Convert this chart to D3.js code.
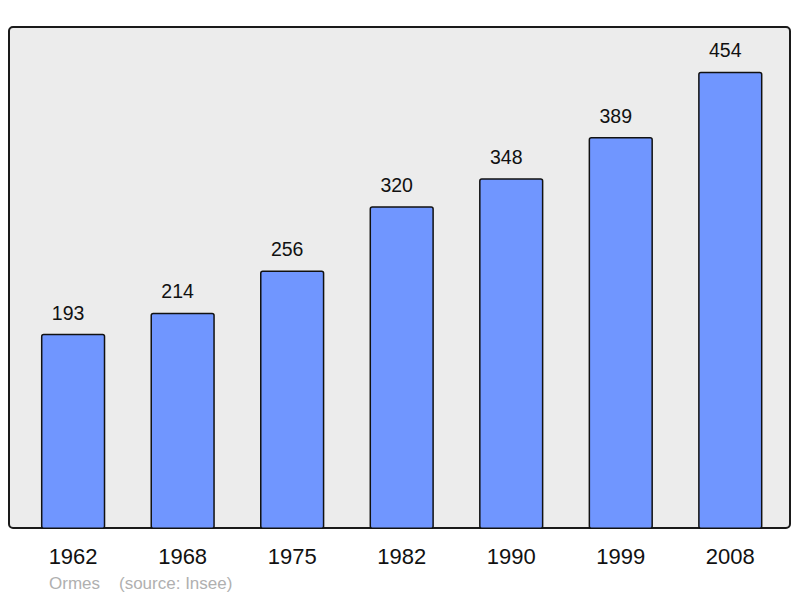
<!DOCTYPE html>
<html>
<head>
<meta charset="utf-8">
<script src="https://cdn.jsdelivr.net/npm/d3@7"></script>
<style>
  body { margin: 0; background: #fff; }
  svg text { font-family: "Liberation Sans", Arial, sans-serif; }
</style>
</head>
<body>
<svg id="chart" width="800" height="598"></svg>
<script>
// data
const years = ["1962", "1968", "1975", "1982", "1990", "1999", "2008"];
const population = [193, 214, 256, 320, 348, 389, 454];
const townName = "Ormes";
const sourceText = "(source: Insee)";

const svg = d3.select("#chart");

const x = d3.scaleBand()
    .domain(years)
    .range([19.8, 783.6])
    .paddingInner(0.4265)
    .paddingOuter(0.2);

const y = d3.scaleLinear()
    .domain([0, 500])
    .range([528.3, 26.3]);

// plot frame
svg.append("rect")
    .attr("x", 9)
    .attr("y", 27)
    .attr("width", 781)
    .attr("height", 501)
    .attr("rx", 4)
    .style("fill", "#ececec")
    .style("stroke", "#1a1a1a")
    .style("stroke-width", 2);

const data = years.map((yr, i) => ({ year: yr, value: population[i] }));

svg.append("g")
    .selectAll("rect")
    .data(data)
    .enter().append("rect")
    .attr("x", d => x(d.year))
    .attr("y", d => y(d.value))
    .attr("width", x.bandwidth())
    .attr("height", d => y(0) - y(d.value))
    .attr("rx", 2)
    .style("fill", "#7096ff")
    .style("stroke", "#111")
    .style("stroke-width", 1.5);

// value labels above bars (sit a bit left of the bar centre, like the original)
svg.append("g")
    .selectAll("text")
    .data(data)
    .enter().append("text")
    .attr("x", d => x(d.year) + x.bandwidth() / 2 - 5)
    .attr("y", d => y(d.value) - 15)
    .attr("text-anchor", "middle")
    .style("font-size", "19.5px")
    .style("fill", "#111")
    .text(d => d.value);

// year labels
svg.append("g")
    .selectAll("text")
    .data(years)
    .enter().append("text")
    .attr("x", d => x(d) + x.bandwidth() / 2)
    .attr("y", 564)
    .attr("text-anchor", "middle")
    .style("font-size", "22px")
    .style("fill", "#111")
    .text(d => d);

// footer
svg.append("text")
    .attr("x", 49)
    .attr("y", 589)
    .style("font-size", "17px")
    .style("fill", "#b0b0b0")
    .text(townName);

svg.append("text")
    .attr("x", 119)
    .attr("y", 589)
    .style("font-size", "17px")
    .style("fill", "#b0b0b0")
    .text(sourceText);
</script>
</body>
</html>
